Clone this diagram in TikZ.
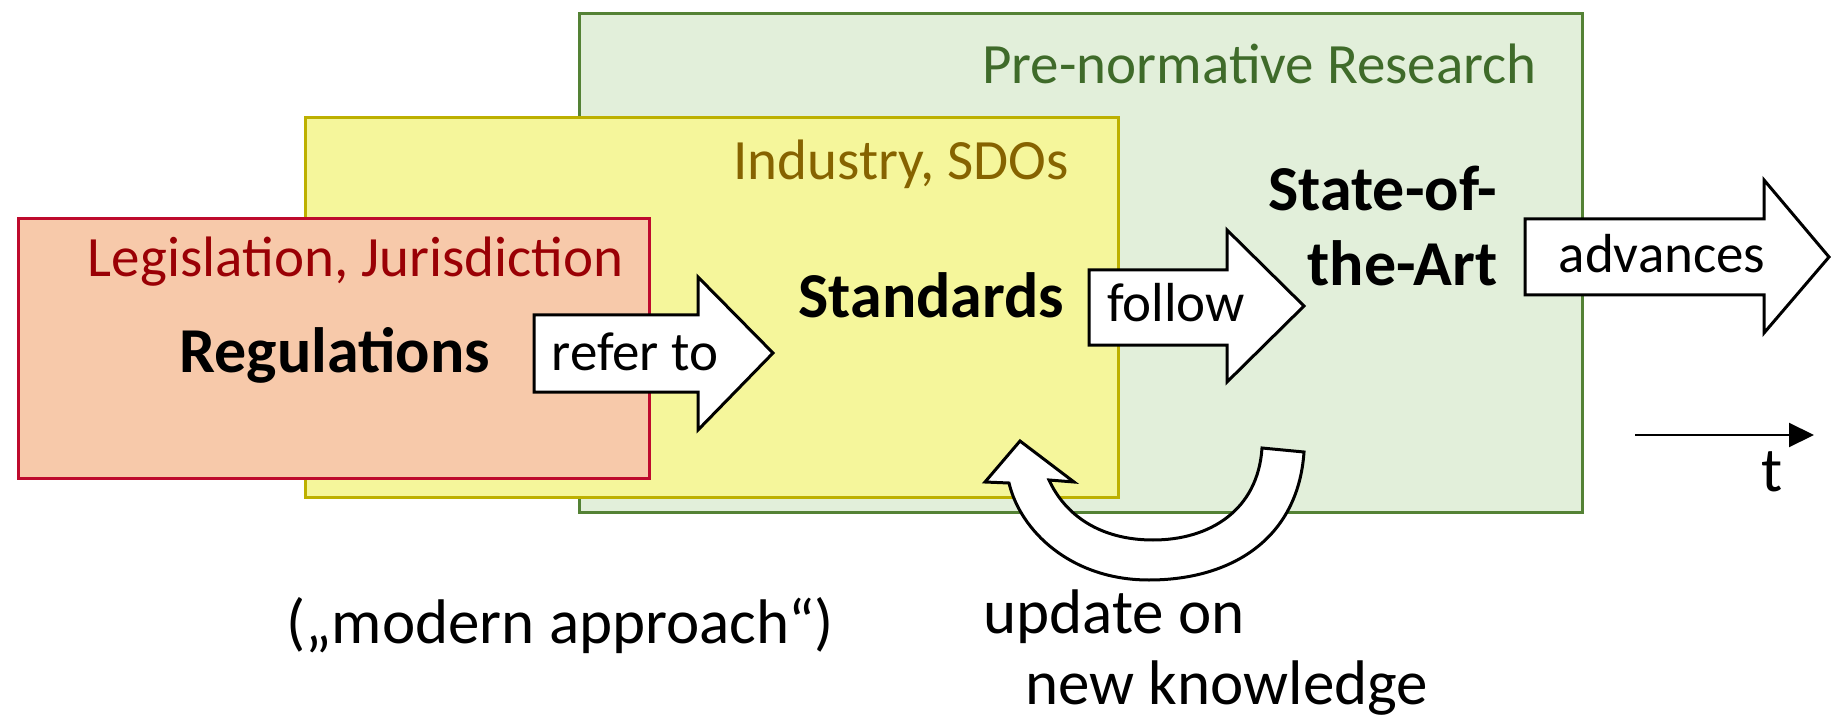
\documentclass[tikz,border=0pt]{standalone}
\usepackage{fontspec}
\setmainfont{Carlito}
\usetikzlibrary{positioning,arrows.meta,calc}

\definecolor{resfill}{HTML}{E2EFDA}
\definecolor{resline}{HTML}{548235}
\definecolor{restext}{HTML}{3F6B2A}
\definecolor{indfill}{HTML}{F5F69B}
\definecolor{indline}{HTML}{BDB000}
\definecolor{indtext}{HTML}{866300}
\definecolor{legfill}{HTML}{F7C9AA}
\definecolor{legline}{HTML}{BE0A2D}
\definecolor{legtext}{HTML}{9A0005}

\begin{document}
\begin{tikzpicture}[x=1pt,y=-1pt,
    catlabel/.style={font=\fontsize{57}{68}\selectfont},
    keyterm/.style={font=\fontsize{64}{76}\selectfont\bfseries},
    arrlabel/.style={font=\fontsize{55}{66}\selectfont},
    remark/.style={font=\fontsize{63}{76}\selectfont},
    area/.style={line width=3pt,anchor=north west,inner sep=0pt},
    blockarr/.style={draw=black,line width=3pt,fill=white,line join=miter}]
  \useasboundingbox (0,0) rectangle (1831,719);

  % the three areas
  \node[area,draw=resline,fill=resfill,minimum width=1003pt,minimum height=499pt] (research) at (578,12) {};
  \node[area,draw=indline,fill=indfill,minimum width=813pt,minimum height=380pt] (industry) at (304,116) {};
  \node[area,draw=legline,fill=legfill,minimum width=631pt,minimum height=260pt] (legis) at (17,217) {};

  \node[catlabel,text=restext,anchor=base east] (prenorm) at (1540,84) {Pre-normative Research};
  \node[catlabel,text=indtext,anchor=base east] (sdos) at (1072,180) {Industry, SDOs};
  \node[catlabel,text=legtext,anchor=base east] (jurisd) at (627,277) {Legislation, Jurisdiction};

  \node[keyterm,anchor=base west] (regs) at (176,372) {Regulations};
  \node[keyterm,anchor=base west] (stds) at (795,318) {Standards};
  \node[keyterm,anchor=base east] (soa) at (1501,211) {State-of-};
  \node[keyterm,anchor=base east] (art) at (1501,286) {the-Art};

  % block arrows
  \draw[blockarr] (534,315) -- (698,315) -- (698,277) -- (773,353) -- (698,430) -- (698,392) -- (534,392) -- cycle;
  \node[arrlabel,anchor=base] (refer) at (635,370) {refer to};
  \draw[blockarr] (1089,270) -- (1227,270) -- (1227,230) -- (1304,306) -- (1227,382) -- (1227,345) -- (1089,345) -- cycle;
  \node[arrlabel,anchor=base] (follow) at (1176,321) {follow};
  \draw[blockarr] (1525,219) -- (1764,219) -- (1764,180) -- (1829,257) -- (1764,333) -- (1764,295) -- (1525,295) -- cycle;
  \node[arrlabel,anchor=base] (adv) at (1662,273) {advances};

  % feedback loop
  \draw[blockarr] (1304,452) .. controls (1298,540) and (1230,580) .. (1149,580)
    .. controls (1070,580) and (1020,530) .. (1009,483)
    -- (985,482) -- (1020,441) -- (1074,482) -- (1049,480)
    .. controls (1065,515) and (1100,540) .. (1153,540)
    .. controls (1210,540) and (1258,510) .. (1262,448) -- cycle;

  \node[remark,anchor=base west] (modern) at (283,643) {(„modern approach“)};
  \node[remark,anchor=base west] (upd) at (980,633) {update on};
  \node[remark,anchor=base west] (know) at (1022,704) {new knowledge};

  % time axis
  \coordinate (t0) at (1635,435);
  \coordinate (t1) at (1814,435);
  \draw[line width=2pt,-{Triangle[length=25pt,width=24pt]}] (t0) -- (t1);
  \node[remark,anchor=base] (tlabel) at (1772,491) {t};
\end{tikzpicture}
\end{document}
